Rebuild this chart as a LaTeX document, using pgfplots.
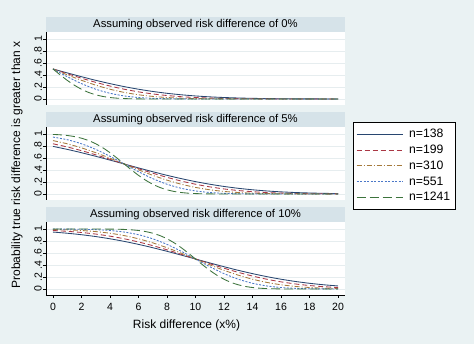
\documentclass[border=0pt]{standalone}
\usepackage{pgfplots}
\pgfplotsset{compat=1.18}
\usepackage{fontspec}
\setmainfont{Liberation Sans}
\definecolor{bgcol}{RGB}{234,242,243}
\definecolor{stripcol}{RGB}{214,227,233}
\definecolor{gridcol}{RGB}{230,237,239}
\definecolor{cA}{RGB}{40,70,112}
\definecolor{cB}{RGB}{170,55,68}
\definecolor{cC}{RGB}{165,122,60}
\definecolor{cD}{RGB}{75,120,200}
\definecolor{cE}{RGB}{60,115,60}
\pgfplotsset{
  panel/.style={
    width=299pt, height=73pt, scale only axis,
    xmin=-0.49, xmax=20.49, ymin=-0.1, ymax=1.117,
    axis background/.style={fill=white},
    ytick={0,0.2,0.4,0.6,0.8,1},
    yticklabels={0,.2,.4,.6,.8,1},
    yticklabel style={rotate=90, anchor=south, font=\fontsize{10.5}{11}\selectfont, inner sep=1pt},
    ymajorgrids, grid style={gridcol, line width=0.6pt},
    major tick length=3pt, tick align=outside,
    tick style={black, line width=0.5pt},
    axis line style={black, line width=0.5pt},
    title style={at={(axis description cs:0.5,1)}, anchor=south, yshift=-6pt, fill=stripcol, minimum width=299pt, minimum height=15pt, inner sep=0pt, font=\fontsize{11.3}{13}\selectfont},
    every axis plot/.append style={line width=0.85pt, smooth, tension=0.4},
  },
  sA/.style={cA, solid},
  sB/.style={cB, dash pattern=on 5pt off 3pt},
  sC/.style={cC, dash pattern=on 5pt off 2pt on 1pt off 2pt},
  sD/.style={cD, dash pattern=on 2pt off 1.5pt},
  sE/.style={cE, dash pattern=on 9pt off 4pt},
}
\begin{document}
\begin{tikzpicture}
\fill[bgcol] (0,0) rectangle (474pt,344pt);
\useasboundingbox (0,0) rectangle (474pt,344pt);
\node[rotate=90, font=\fontsize{12}{14}\selectfont] at (17pt,179pt) {Probability true risk difference is greater than x};

% Panel 1
\begin{axis}[panel, at={(46pt,312pt)}, anchor=north west,
  axis y line*=left, axis x line=none,
  title={Assuming observed risk difference of 0\%}]
\addplot[sA] coordinates {(0,0.5)(1,0.4349)(2,0.3716)(3,0.3114)(4,0.2562)(5,0.2063)(6,0.1628)(7,0.1258)(8,0.0950)(9,0.0703)(10,0.0508)(11,0.0357)(12,0.0247)(13,0.0167)(14,0.0109)(15,0.0070)(16,0.0044)(17,0.0027)(18,0.0016)(19,0.0009)(20,0.0005)};
\addplot[sB] coordinates {(0,0.5)(1,0.4219)(2,0.3468)(3,0.2774)(4,0.2158)(5,0.1628)(6,0.1190)(7,0.0843)(8,0.0578)(9,0.0383)(10,0.0245)(11,0.0153)(12,0.0091)(13,0.0053)(14,0.0030)(15,0.0016)(16,0.0008)(17,0.0004)(18,0.0002)(19,0.0001)(20,0)};
\addplot[sC] coordinates {(0,0.5)(1,0.4029)(2,0.3117)(3,0.2309)(4,0.1630)(5,0.1098)(6,0.0704)(7,0.0429)(8,0.0248)(9,0.0135)(10,0.0071)(11,0.0035)(12,0.0016)(13,0.0007)(14,0.0003)(15,0.0001)(16,0)(17,0)(18,0)(19,0)(20,0)};
\addplot[sD] coordinates {(0,0.5)(1,0.3716)(2,0.2562)(3,0.1628)(4,0.0950)(5,0.0508)(6,0.0247)(7,0.0109)(8,0.0044)(9,0.0016)(10,0.0005)(11,0.0002)(12,0)(13,0)(14,0)(15,0)(16,0)(17,0)(18,0)(19,0)(20,0)};
\addplot[sE] coordinates {(0,0.5)(0.5,0.4029)(1,0.3110)(1.5,0.2303)(2,0.1625)(2.5,0.1092)(3,0.0699)(3.5,0.0425)(4,0.0245)(4.5,0.0134)(5,0.0070)(5.5,0.0034)(6,0.0016)(6.5,0.0007)(7,0.0003)(7.5,0.0001)(8,0)(9,0)(10,0)(11,0)(12,0)(13,0)(14,0)(15,0)(16,0)(17,0)(18,0)(19,0)(20,0)};
\end{axis}

% Panel 2
\begin{axis}[panel, at={(46pt,217pt)}, anchor=north west,
  axis y line*=left, axis x line=none,
  title={Assuming observed risk difference of 5\%},
  legend style={at={(axis description cs:1,1)}, anchor=north west, xshift=8pt, yshift=5pt,
    draw=black, line width=0.5pt, fill=white, font=\fontsize{12.2}{14}\selectfont,
    inner xsep=3pt, inner ysep=5pt, row sep=1.8pt, cells={anchor=west},
    /tikz/every odd column/.append style={column sep=4pt}},
  legend image code/.code={\draw[#1, line width=0.85pt] (0pt,0pt) -- (46pt,0pt);}]
\addplot[sA] coordinates {(0,0.7937)(1,0.7438)(2,0.6886)(3,0.6284)(4,0.5651)(5,0.5)(6,0.4349)(7,0.3716)(8,0.3114)(9,0.2562)(10,0.2063)(11,0.1628)(12,0.1258)(13,0.0950)(14,0.0703)(15,0.0508)(16,0.0357)(17,0.0247)(18,0.0167)(19,0.0109)(20,0.0070)};
\addlegendentry{n=138}
\addplot[sB] coordinates {(0,0.8372)(1,0.7842)(2,0.7226)(3,0.6532)(4,0.5781)(5,0.5)(6,0.4219)(7,0.3468)(8,0.2774)(9,0.2158)(10,0.1628)(11,0.1190)(12,0.0843)(13,0.0578)(14,0.0383)(15,0.0245)(16,0.0153)(17,0.0091)(18,0.0053)(19,0.0030)(20,0.0016)};
\addlegendentry{n=199}
\addplot[sC] coordinates {(0,0.8902)(1,0.8370)(2,0.7691)(3,0.6883)(4,0.5971)(5,0.5)(6,0.4029)(7,0.3117)(8,0.2309)(9,0.1630)(10,0.1098)(11,0.0704)(12,0.0429)(13,0.0248)(14,0.0135)(15,0.0071)(16,0.0035)(17,0.0016)(18,0.0007)(19,0.0003)(20,0.0001)};
\addlegendentry{n=310}
\addplot[sD] coordinates {(0,0.9492)(1,0.9050)(2,0.8372)(3,0.7438)(4,0.6284)(5,0.5)(6,0.3716)(7,0.2562)(8,0.1628)(9,0.0950)(10,0.0508)(11,0.0247)(12,0.0109)(13,0.0044)(14,0.0016)(15,0.0005)(16,0.0002)(17,0)(18,0)(19,0)(20,0)};
\addlegendentry{n=551}
\addplot[sE] coordinates {(0,0.9930)(0.5,0.9866)(1,0.9755)(1.5,0.9575)(2,0.9301)(2.5,0.8908)(3,0.8375)(3.5,0.7697)(4,0.6890)(4.5,0.5971)(5,0.5)(5.5,0.4029)(6,0.3110)(6.5,0.2303)(7,0.1625)(7.5,0.1092)(8,0.0699)(8.5,0.0425)(9,0.0245)(9.5,0.0134)(10,0.0070)(10.5,0.0034)(11,0.0016)(11.5,0.0007)(12,0.0003)(12.5,0.0001)(13,0)(14,0)(15,0)(16,0)(17,0)(18,0)(19,0)(20,0)};
\addlegendentry{n=1241}
\end{axis}

% Panel 3
\begin{axis}[panel, at={(46pt,122pt)}, anchor=north west,
  axis lines*=left,
  title={Assuming observed risk difference of 10\%},
  xtick={0,2,4,6,8,10,12,14,16,18,20},
  xticklabels={0,2,4,6,8,10,12,14,16,18,20},
  xticklabel style={font=\fontsize{10.5}{11}\selectfont, yshift=-2pt},
  xlabel={Risk difference (x\%)},
  xlabel style={font=\fontsize{12}{14}\selectfont, at={(axis description cs:0.47,0)}, anchor=base, yshift=-34pt}]
\addplot[sA] coordinates {(0,0.9492)(1,0.9297)(2,0.9050)(3,0.8742)(4,0.8372)(5,0.7937)(6,0.7438)(7,0.6886)(8,0.6284)(9,0.5651)(10,0.5)(11,0.4349)(12,0.3716)(13,0.3114)(14,0.2562)(15,0.2063)(16,0.1628)(17,0.1258)(18,0.0950)(19,0.0703)(20,0.0508)};
\addplot[sB] coordinates {(0,0.9755)(1,0.9617)(2,0.9422)(3,0.9157)(4,0.8810)(5,0.8372)(6,0.7842)(7,0.7226)(8,0.6532)(9,0.5781)(10,0.5)(11,0.4219)(12,0.3468)(13,0.2774)(14,0.2158)(15,0.1628)(16,0.1190)(17,0.0843)(18,0.0578)(19,0.0383)(20,0.0245)};
\addplot[sC] coordinates {(0,0.9929)(1,0.9865)(2,0.9752)(3,0.9571)(4,0.9296)(5,0.8902)(6,0.8370)(7,0.7691)(8,0.6883)(9,0.5971)(10,0.5)(11,0.4029)(12,0.3117)(13,0.2309)(14,0.1630)(15,0.1098)(16,0.0704)(17,0.0429)(18,0.0248)(19,0.0135)(20,0.0071)};
\addplot[sD] coordinates {(0,0.9995)(1,0.9984)(2,0.9956)(3,0.9891)(4,0.9753)(5,0.9492)(6,0.9050)(7,0.8372)(8,0.7438)(9,0.6284)(10,0.5)(11,0.3716)(12,0.2562)(13,0.1628)(14,0.0950)(15,0.0508)(16,0.0247)(17,0.0109)(18,0.0044)(19,0.0016)(20,0.0005)};
\addplot[sE] coordinates {(0,1)(1,1)(2,1)(2.5,0.9999)(3,0.9997)(3.5,0.9993)(4,0.9984)(4.5,0.9966)(5,0.9930)(5.5,0.9866)(6,0.9755)(6.5,0.9575)(7,0.9301)(7.5,0.8908)(8,0.8375)(8.5,0.7697)(9,0.6890)(9.5,0.5971)(10,0.5)(10.5,0.4029)(11,0.3110)(11.5,0.2303)(12,0.1625)(12.5,0.1092)(13,0.0699)(13.5,0.0425)(14,0.0245)(14.5,0.0134)(15,0.0070)(15.5,0.0034)(16,0.0016)(16.5,0.0007)(17,0.0003)(17.5,0.0001)(18,0)(19,0)(20,0)};
\end{axis}
\end{tikzpicture}
\end{document}
